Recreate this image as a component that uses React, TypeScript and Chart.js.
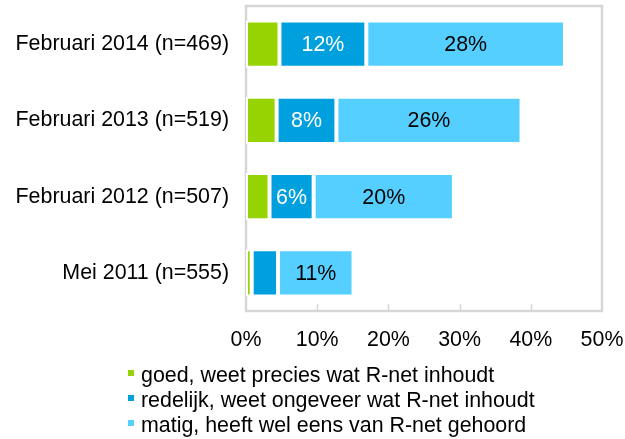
import React, { useEffect, useRef } from "react";
import { Chart, registerables } from "chart.js";

Chart.register(...registerables);

const categories = [
  "Februari 2014 (n=469)",
  "Februari 2013 (n=519)",
  "Februari 2012 (n=507)",
  "Mei 2011 (n=555)",
];
const goed = [4.7, 4.3, 3.3, 0.8];
const redelijk = [12.2, 8.4, 6.2, 3.7];
const matig = [27.9, 26.0, 19.7, 10.6];
const seriesNames = [
  "goed, weet precies wat R-net inhoudt",
  "redelijk, weet ongeveer wat R-net inhoudt",
  "matig, heeft wel eens van R-net gehoord",
];
const xTicks = [0, 10, 20, 30, 40, 50];

const COLORS = ["#97D300", "#00A0DE", "#55CFFF"];
const LABEL_COLORS = [null, "#FFFFFF", "#000000"];
const FONT = "Liberation Sans, Arial, sans-serif";
const FSIZE = 21.4;
const FRAME = "#D6D6D6";

const framePlugin = {
  id: "frame",
  beforeDatasetsDraw(chart: any) {
    const { ctx, chartArea } = chart;
    const xs = chart.scales.x;
    ctx.save();
    ctx.strokeStyle = FRAME;
    ctx.lineWidth = 2.5;
    ctx.strokeRect(chartArea.left, chartArea.top, chartArea.right - chartArea.left, chartArea.bottom - chartArea.top);
    ctx.lineWidth = 1.5;
    xTicks.slice(1, -1).forEach((t) => {
      const x = Math.round(xs.getPixelForValue(t)) + 0.5;
      ctx.beginPath();
      ctx.moveTo(x, chartArea.bottom);
      ctx.lineTo(x, chartArea.bottom - 7);
      ctx.stroke();
    });
    ctx.restore();
  },
};

const labelPlugin = {
  id: "barLabels",
  afterDatasetsDraw(chart: any) {
    const { ctx } = chart;
    ctx.save();
    ctx.font = `${FSIZE}px ${FONT}`;
    ctx.textAlign = "center";
    ctx.textBaseline = "middle";
    chart.data.datasets.forEach((ds: any, di: number) => {
      const color = LABEL_COLORS[di];
      if (!color) return;
      const meta = chart.getDatasetMeta(di);
      meta.data.forEach((el: any, i: number) => {
        const v = ds.data[i];
        if (v < 5) return;
        ctx.fillStyle = color;
        ctx.fillText(Math.round(v) + "%", (el.x + el.base) / 2, el.y + 1);
      });
    });
    ctx.restore();
  },
};

const legendPlugin = {
  id: "customLegend",
  afterDraw(chart: any) {
    const { ctx } = chart;
    ctx.save();
    ctx.font = `${FSIZE}px ${FONT}`;
    ctx.textAlign = "left";
    ctx.textBaseline = "alphabetic";
    chart.data.datasets.forEach((ds: any, i: number) => {
      const base = 381.5 + i * 25;
      ctx.fillStyle = ds.backgroundColor;
      ctx.fillRect(128, base - 11.5, 6, 6);
      ctx.fillStyle = "#000000";
      ctx.fillText(ds.label, 141, base);
    });
    ctx.restore();
  },
};

export default function App() {
  const ref = useRef<HTMLCanvasElement>(null);
  useEffect(() => {
    const canvas = ref.current;
    if (!canvas) return;
    const values = [goed, redelijk, matig];
    const chart = new Chart(canvas, {
      type: "bar",
      data: {
        labels: categories,
        datasets: values.map((d, i) => ({
          label: seriesNames[i],
          data: d,
          backgroundColor: COLORS[i],
          borderColor: "#FFFFFF",
          borderWidth: 2,
          borderSkipped: false,
          barPercentage: 0.62,
          categoryPercentage: 1,
        })),
      },
      options: {
        indexAxis: "y",
        animation: false,
        responsive: false,
        devicePixelRatio: 1,
        layout: { padding: { top: 6, right: 23, bottom: 83, left: 0 } },
        plugins: { legend: { display: false }, tooltip: { enabled: false } },
        scales: {
          x: {
            stacked: true,
            min: 0,
            max: 50,
            afterBuildTicks: (s: any) => {
              s.ticks = xTicks.map((v) => ({ value: v }));
            },
            afterFit: (s: any) => {
              s.height = 45;
              s.paddingLeft = 0;
              s.paddingRight = 0;
            },
            ticks: {
              padding: 16,
              color: "#000000",
              font: { size: FSIZE, family: FONT },
              callback: (v: any) => v + "%",
              maxRotation: 0,
            },
            grid: { display: false, drawTicks: false },
            border: { display: false },
          },
          y: {
            stacked: true,
            afterFit: (s: any) => {
              s.width = 246;
              s.paddingTop = 0;
              s.paddingBottom = 0;
            },
            ticks: {
              padding: 17,
              color: "#000000",
              font: { size: FSIZE, family: FONT },
            },
            grid: { display: false, drawTicks: false },
            border: { display: false },
          },
        },
      },
      plugins: [framePlugin, labelPlugin, legendPlugin],
    });
    return () => chart.destroy();
  }, []);
  return (
    <div style={{ position: "fixed", left: 0, top: 0, width: 625, height: 439, background: "#fff" }}>
      <canvas ref={ref} width={625} height={439} style={{ display: "block" }} />
    </div>
  );
}
